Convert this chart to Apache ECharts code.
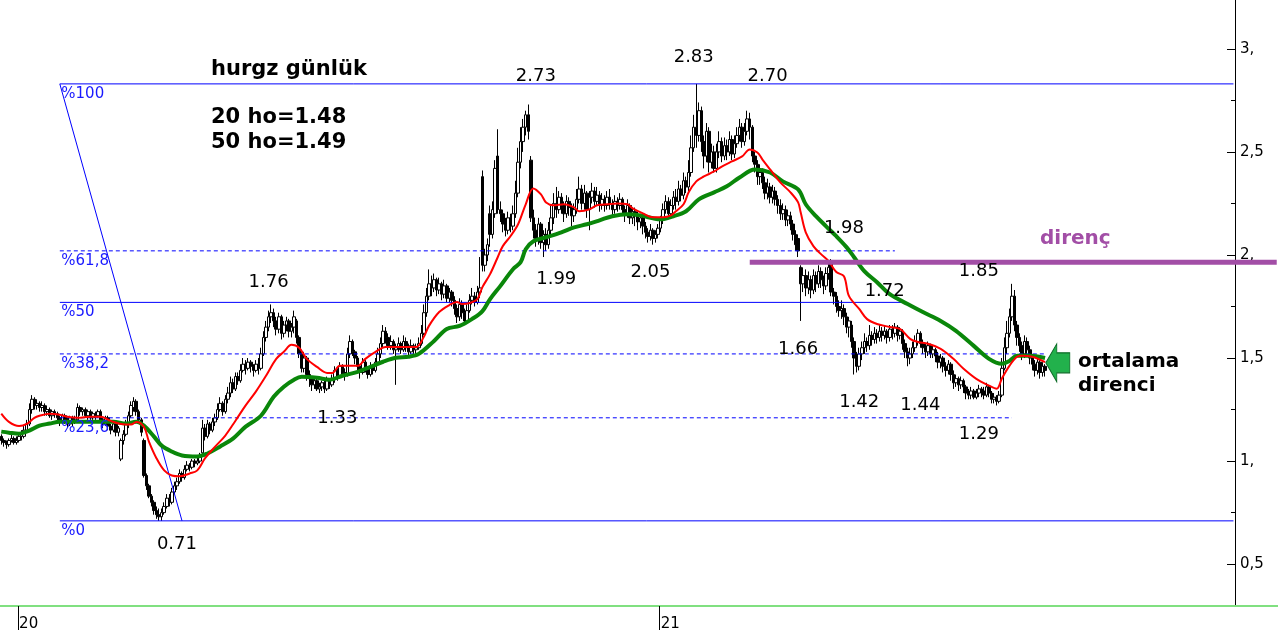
<!DOCTYPE html>
<html>
<head>
<meta charset="utf-8">
<script src="https://cdn.jsdelivr.net/npm/echarts@6/dist/echarts.min.js"></script>
<style>
html,body{margin:0;padding:0;background:#fff;}
#chart{width:1278px;height:632px;}
</style>
</head>
<body>
<div id="chart"></div>
<script>
// ---------- DATA ----------
const opens = [
1.12,1.10,1.09,1.08,1.10,1.11,1.09,1.10,1.12,1.12,
1.15,1.18,1.25,1.30,1.27,1.28,1.26,1.27,1.24,1.25,
1.22,1.24,1.23,1.21,1.19,1.22,1.20,1.18,1.21,1.19,
1.20,1.26,1.24,1.25,1.22,1.24,1.21,1.23,1.22,1.24,
1.20,1.18,1.21,1.17,1.15,1.18,1.14,1.01,1.10,1.13,
1.18,1.22,1.26,1.29,1.24,1.20,1.10,0.93,0.88,0.83,
0.80,0.76,0.74,0.73,0.75,0.78,0.82,0.80,0.85,0.88,
0.90,0.94,0.92,0.96,0.98,0.97,1.00,0.99,1.00,1.04,
1.16,1.12,1.18,1.15,1.19,1.21,1.25,1.28,1.24,1.30,
1.33,1.38,1.35,1.41,1.39,1.44,1.47,1.45,1.48,1.46,
1.44,1.47,1.45,1.52,1.60,1.65,1.70,1.72,1.68,1.64,
1.70,1.62,1.66,1.68,1.63,1.65,1.68,1.60,1.52,1.45,
1.50,1.42,1.40,1.37,1.39,1.35,1.36,1.38,1.35,1.39,
1.37,1.40,1.44,1.41,1.46,1.43,1.42,1.52,1.58,1.53,
1.50,1.46,1.43,1.48,1.45,1.42,1.46,1.44,1.48,1.52,
1.57,1.63,1.60,1.56,1.58,1.54,1.55,1.57,1.54,1.58,
1.55,1.53,1.56,1.54,1.55,1.57,1.62,1.72,1.80,1.86,
1.84,1.88,1.83,1.86,1.81,1.85,1.79,1.82,1.78,1.74,
1.70,1.76,1.72,1.68,1.73,1.78,1.80,1.77,1.82,2.38,
1.95,2.00,2.20,2.10,2.20,2.48,2.22,2.20,2.15,2.12,
2.18,2.14,2.20,2.30,2.45,2.55,2.62,2.68,2.46,2.18,
2.12,2.08,2.15,2.06,2.10,2.05,2.12,2.18,2.25,2.22,
2.28,2.24,2.20,2.26,2.23,2.19,2.22,2.27,2.32,2.25,
2.30,2.22,2.28,2.31,2.26,2.29,2.24,2.27,2.24,2.28,
2.25,2.22,2.26,2.24,2.27,2.22,2.20,2.24,2.18,2.21,
2.19,2.16,2.18,2.14,2.11,2.09,2.12,2.08,2.10,2.13,
2.17,2.22,2.26,2.20,2.24,2.28,2.26,2.32,2.29,2.36,
2.33,2.40,2.52,2.62,2.58,2.70,2.55,2.48,2.60,2.45,
2.50,2.42,2.50,2.55,2.48,2.53,2.50,2.56,2.49,2.54,
2.58,2.62,2.55,2.60,2.66,2.62,2.48,2.44,2.38,2.40,
2.35,2.30,2.33,2.28,2.31,2.27,2.24,2.20,2.22,2.17,
2.19,2.15,2.10,2.08,1.94,1.86,1.90,1.84,1.88,1.83,
1.90,1.86,1.92,1.88,1.85,1.91,1.96,1.82,1.80,1.75,
1.73,1.74,1.70,1.65,1.66,1.58,1.50,1.46,1.52,1.55,
1.58,1.56,1.61,1.59,1.62,1.60,1.63,1.61,1.63,1.60,
1.64,1.62,1.65,1.61,1.63,1.57,1.53,1.50,1.52,1.55,
1.58,1.62,1.57,1.55,1.53,1.56,1.52,1.54,1.51,1.48,
1.50,1.46,1.44,1.47,1.42,1.38,1.40,1.37,1.39,1.36,
1.33,1.32,1.34,1.31,1.33,1.35,1.34,1.32,1.36,1.33,
1.30,1.31,1.29,1.32,1.45,1.55,1.62,1.70,1.80,1.66,
1.60,1.56,1.52,1.58,1.54,1.50,1.47,1.44,1.48,1.43,
1.46];
const closes = [
1.10,1.09,1.08,1.10,1.11,1.09,1.10,1.12,1.13,1.15,
1.18,1.25,1.30,1.27,1.28,1.26,1.27,1.24,1.25,1.22,
1.24,1.23,1.21,1.19,1.22,1.20,1.18,1.21,1.19,1.20,
1.26,1.24,1.25,1.22,1.24,1.21,1.23,1.22,1.24,1.20,
1.18,1.21,1.17,1.15,1.18,1.14,1.16,1.10,1.13,1.18,
1.22,1.27,1.29,1.24,1.20,1.14,0.93,0.88,0.83,0.80,
0.76,0.74,0.73,0.75,0.78,0.82,0.80,0.85,0.88,0.90,
0.94,0.92,0.96,0.98,0.97,1.00,0.99,1.00,1.02,1.16,
1.12,1.18,1.15,1.19,1.21,1.25,1.28,1.24,1.30,1.33,
1.38,1.35,1.41,1.39,1.44,1.47,1.45,1.48,1.46,1.44,
1.47,1.45,1.52,1.60,1.65,1.70,1.72,1.68,1.64,1.70,
1.62,1.66,1.68,1.63,1.65,1.70,1.60,1.52,1.45,1.50,
1.42,1.40,1.37,1.39,1.35,1.36,1.38,1.35,1.39,1.37,
1.40,1.44,1.41,1.46,1.43,1.42,1.52,1.58,1.53,1.50,
1.46,1.43,1.48,1.45,1.42,1.46,1.44,1.48,1.52,1.57,
1.63,1.60,1.56,1.58,1.54,1.55,1.57,1.54,1.58,1.55,
1.53,1.56,1.54,1.55,1.57,1.62,1.72,1.80,1.86,1.84,
1.88,1.83,1.86,1.81,1.85,1.79,1.82,1.78,1.74,1.70,
1.76,1.72,1.68,1.73,1.78,1.80,1.77,1.82,1.84,1.95,
2.00,2.05,2.10,2.22,2.42,2.22,2.20,2.15,2.12,2.18,
2.14,2.20,2.30,2.45,2.55,2.62,2.68,2.60,2.18,2.12,
2.08,2.15,2.06,2.10,2.05,2.12,2.18,2.25,2.22,2.28,
2.24,2.20,2.26,2.23,2.19,2.22,2.27,2.32,2.25,2.30,
2.22,2.28,2.31,2.26,2.29,2.24,2.27,2.24,2.28,2.25,
2.22,2.26,2.24,2.27,2.22,2.20,2.24,2.18,2.21,2.19,
2.16,2.18,2.14,2.11,2.09,2.12,2.08,2.10,2.13,2.17,
2.22,2.26,2.20,2.24,2.28,2.26,2.32,2.29,2.36,2.33,
2.40,2.52,2.62,2.58,2.70,2.55,2.48,2.60,2.45,2.50,
2.42,2.50,2.55,2.48,2.53,2.50,2.56,2.49,2.54,2.58,
2.62,2.55,2.60,2.66,2.62,2.48,2.44,2.38,2.40,2.35,
2.30,2.33,2.28,2.31,2.27,2.24,2.20,2.22,2.17,2.19,
2.15,2.10,2.05,2.02,1.86,1.90,1.84,1.88,1.83,1.90,
1.86,1.92,1.88,1.85,1.91,1.94,1.82,1.80,1.75,1.73,
1.74,1.70,1.65,1.68,1.58,1.50,1.46,1.52,1.55,1.58,
1.56,1.61,1.59,1.62,1.60,1.63,1.61,1.63,1.60,1.64,
1.62,1.65,1.61,1.63,1.57,1.53,1.50,1.52,1.55,1.58,
1.62,1.57,1.55,1.53,1.56,1.52,1.54,1.51,1.48,1.50,
1.46,1.44,1.47,1.42,1.38,1.40,1.37,1.39,1.36,1.33,
1.32,1.34,1.31,1.33,1.35,1.34,1.32,1.36,1.33,1.30,
1.31,1.29,1.32,1.45,1.55,1.62,1.70,1.80,1.66,1.60,
1.56,1.52,1.58,1.54,1.50,1.47,1.44,1.48,1.43,1.46,
1.44];
const lows = [
1.08,1.07,1.06,1.07,1.09,1.08,1.08,1.09,1.10,1.11,
1.14,1.17,1.23,1.25,1.25,1.24,1.24,1.22,1.22,1.21,
1.20,1.21,1.19,1.17,1.18,1.18,1.16,1.17,1.17,1.18,
1.19,1.22,1.22,1.21,1.20,1.20,1.20,1.20,1.21,1.19,
1.16,1.17,1.15,1.13,1.14,1.12,1.12,1.00,1.08,1.12,
1.16,1.21,1.24,1.22,1.18,1.12,0.92,0.86,0.82,0.78,
0.74,0.72,0.71,0.71,0.74,0.77,0.78,0.79,0.84,0.86,
0.89,0.90,0.91,0.95,0.95,0.96,0.97,0.98,0.99,1.03,
1.10,1.11,1.13,1.14,1.17,1.20,1.24,1.22,1.23,1.28,
1.31,1.33,1.34,1.37,1.38,1.43,1.42,1.44,1.43,1.41,
1.43,1.42,1.44,1.51,1.58,1.63,1.67,1.65,1.61,1.62,
1.59,1.60,1.63,1.60,1.60,1.62,1.57,1.50,1.43,1.43,
1.39,1.36,1.34,1.35,1.34,1.33,1.34,1.33,1.34,1.35,
1.36,1.38,1.39,1.40,1.41,1.39,1.41,1.50,1.51,1.47,
1.44,1.40,1.42,1.43,1.40,1.41,1.42,1.43,1.47,1.50,
1.55,1.57,1.54,1.54,1.52,1.37,1.53,1.52,1.53,1.53,
1.51,1.52,1.52,1.52,1.54,1.56,1.61,1.70,1.78,1.80,
1.82,1.80,1.81,1.78,1.79,1.77,1.77,1.75,1.71,1.67,
1.68,1.69,1.66,1.67,1.72,1.76,1.75,1.76,1.79,1.92,
1.92,1.97,2.04,2.08,2.18,2.20,2.16,2.11,2.09,2.10,
2.11,2.12,2.18,2.28,2.42,2.50,2.58,2.56,2.16,2.08,
2.04,2.05,2.03,1.99,2.02,2.03,2.10,2.15,2.18,2.20,
2.20,2.16,2.18,2.19,2.14,2.16,2.20,2.25,2.22,2.22,
2.18,2.12,2.25,2.23,2.24,2.21,2.22,2.21,2.22,2.22,
2.19,2.20,2.21,2.22,2.19,2.16,2.18,2.15,2.15,2.14,
2.12,2.13,2.10,2.08,2.06,2.07,2.05,2.06,2.08,2.11,
2.15,2.20,2.18,2.18,2.22,2.22,2.24,2.26,2.27,2.30,
2.31,2.38,2.50,2.52,2.55,2.50,2.42,2.45,2.40,2.42,
2.40,2.40,2.47,2.45,2.46,2.46,2.48,2.46,2.47,2.52,
2.55,2.52,2.53,2.58,2.56,2.45,2.40,2.34,2.34,2.32,
2.27,2.27,2.25,2.25,2.24,2.20,2.17,2.17,2.14,2.14,
2.12,2.07,2.02,1.99,1.68,1.82,1.80,1.81,1.79,1.81,
1.82,1.84,1.84,1.81,1.83,1.88,1.80,1.76,1.72,1.70,
1.69,1.66,1.62,1.60,1.55,1.42,1.43,1.44,1.49,1.52,
1.53,1.54,1.56,1.57,1.57,1.58,1.58,1.59,1.57,1.58,
1.59,1.60,1.58,1.59,1.54,1.50,1.46,1.47,1.50,1.53,
1.56,1.55,1.52,1.50,1.51,1.50,1.50,1.48,1.45,1.45,
1.43,1.41,1.42,1.39,1.35,1.36,1.34,1.35,1.33,1.30,
1.30,1.30,1.30,1.30,1.31,1.31,1.30,1.31,1.31,1.28,
1.28,1.27,1.28,1.31,1.44,1.52,1.60,1.68,1.63,1.56,
1.53,1.49,1.50,1.51,1.47,1.44,1.41,1.42,1.40,1.41,
1.41];
const highs = [
1.13,1.11,1.10,1.11,1.13,1.12,1.12,1.13,1.15,1.17,
1.20,1.28,1.32,1.31,1.30,1.29,1.29,1.28,1.27,1.26,
1.25,1.25,1.24,1.22,1.23,1.23,1.21,1.22,1.22,1.22,
1.28,1.27,1.26,1.26,1.25,1.25,1.24,1.24,1.25,1.25,
1.21,1.22,1.22,1.18,1.19,1.19,1.17,1.11,1.15,1.20,
1.24,1.29,1.31,1.30,1.25,1.21,1.11,0.94,0.89,0.84,
0.81,0.78,0.77,0.77,0.80,0.84,0.84,0.87,0.90,0.92,
0.96,0.95,0.98,1.00,0.99,1.01,1.01,1.02,1.04,1.20,
1.18,1.20,1.19,1.21,1.23,1.28,1.31,1.29,1.32,1.36,
1.41,1.40,1.43,1.43,1.47,1.50,1.49,1.50,1.49,1.47,
1.49,1.50,1.55,1.63,1.68,1.73,1.76,1.74,1.70,1.72,
1.71,1.68,1.70,1.69,1.67,1.73,1.69,1.61,1.54,1.53,
1.51,1.44,1.41,1.41,1.40,1.38,1.39,1.39,1.41,1.40,
1.42,1.46,1.45,1.48,1.47,1.45,1.55,1.61,1.59,1.54,
1.51,1.47,1.50,1.49,1.46,1.48,1.47,1.50,1.55,1.60,
1.66,1.65,1.62,1.61,1.59,1.57,1.60,1.58,1.61,1.60,
1.57,1.59,1.57,1.57,1.60,1.66,1.76,1.84,1.93,1.90,
1.91,1.89,1.89,1.87,1.88,1.86,1.84,1.83,1.80,1.76,
1.79,1.78,1.74,1.76,1.81,1.84,1.82,1.85,1.99,2.41,
2.03,2.08,2.24,2.26,2.46,2.61,2.26,2.22,2.18,2.21,
2.20,2.24,2.36,2.52,2.62,2.66,2.70,2.73,2.48,2.22,
2.15,2.18,2.16,2.12,2.13,2.16,2.24,2.30,2.33,2.31,
2.30,2.26,2.29,2.28,2.25,2.25,2.32,2.38,2.34,2.34,
2.31,2.31,2.35,2.33,2.33,2.31,2.30,2.29,2.31,2.32,
2.27,2.29,2.28,2.30,2.28,2.24,2.27,2.25,2.23,2.23,
2.21,2.20,2.20,2.16,2.13,2.15,2.13,2.12,2.15,2.19,
2.25,2.29,2.28,2.27,2.31,2.32,2.36,2.34,2.40,2.38,
2.46,2.58,2.68,2.83,2.74,2.72,2.58,2.64,2.62,2.54,
2.53,2.54,2.60,2.57,2.57,2.56,2.60,2.58,2.58,2.62,
2.66,2.64,2.64,2.70,2.69,2.63,2.50,2.46,2.44,2.42,
2.38,2.37,2.35,2.34,2.33,2.29,2.27,2.25,2.24,2.22,
2.21,2.17,2.12,2.10,1.95,1.94,1.93,1.92,1.90,1.93,
1.92,1.95,1.94,1.90,1.94,1.97,1.98,1.84,1.82,1.78,
1.78,1.76,1.72,1.70,1.68,1.60,1.53,1.55,1.58,1.62,
1.60,1.66,1.63,1.65,1.64,1.66,1.65,1.66,1.64,1.66,
1.66,1.67,1.66,1.65,1.64,1.59,1.55,1.55,1.58,1.61,
1.64,1.63,1.59,1.57,1.58,1.57,1.56,1.55,1.53,1.52,
1.51,1.48,1.49,1.48,1.44,1.42,1.41,1.41,1.40,1.37,
1.35,1.36,1.35,1.35,1.37,1.36,1.36,1.38,1.37,1.34,
1.33,1.32,1.34,1.50,1.60,1.68,1.74,1.86,1.83,1.68,
1.62,1.58,1.61,1.60,1.56,1.52,1.49,1.50,1.49,1.48,
1.47];

// moving averages: [bar index, value]
const ma20 = [
[0,1.23],[3,1.19],[7,1.17],[10,1.18],[13,1.21],[15,1.22],[19,1.23],[23,1.225],[26,1.215],[30,1.21],
[35,1.215],[39,1.215],[43,1.195],[47,1.18],[51,1.177],[53,1.19],[56,1.167],[58,1.095],[61,1.013],[64,0.955],
[67,0.93],[70,0.926],[74,0.94],[77,0.955],[80,1.013],[84,1.07],[88,1.124],[92,1.196],[96,1.27],[100,1.337],
[104,1.414],[108,1.496],[111,1.53],[114,1.564],[117,1.55],[120,1.496],[124,1.457],[128,1.428],[130,1.428],[133,1.462],
[137,1.462],[140,1.462],[143,1.496],[147,1.53],[151,1.554],[155,1.554],[159,1.554],[163,1.554],[166,1.603],[168,1.656],
[172,1.723],[176,1.757],[179,1.772],[181,1.762],[184,1.767],[187,1.786],[189,1.844],[192,1.907],[195,1.989],[197,2.043],
[200,2.091],[203,2.149],[206,2.246],[209,2.323],[212,2.294],[214,2.255],[217,2.241],[221,2.246],[225,2.231],[227,2.212],
[231,2.221],[234,2.241],[238,2.246],[242,2.25],[246,2.246],[248,2.226],[252,2.202],[256,2.183],[260,2.183],[263,2.192],
[265,2.212],[268,2.246],[270,2.304],[273,2.357],[276,2.381],[280,2.405],[283,2.429],[287,2.454],[291,2.478],[294,2.512],
[297,2.497],[299,2.463],[302,2.415],[306,2.352],[310,2.304],[313,2.255],[314,2.207],[316,2.11],[319,2.043],[322,2.004],
[325,1.97],[328,1.917],[331,1.897],[333,1.80],[337,1.738],[340,1.69],[344,1.665],[349,1.651],[353,1.641],[357,1.593],
[360,1.578],[364,1.569],[369,1.544],[374,1.496],[378,1.448],[383,1.399],[388,1.366],[391,1.351],[393,1.40],[396,1.462],
[399,1.506],[401,1.511],[405,1.506],[410,1.48]];
const ma50 = [
[0,1.143],[3,1.138],[7,1.133],[11,1.148],[15,1.172],[19,1.182],[23,1.191],[31,1.191],[39,1.191],[44,1.191],
[49,1.182],[53,1.191],[56,1.172],[60,1.119],[63,1.075],[67,1.046],[71,1.027],[77,1.022],[81,1.037],[86,1.071],
[91,1.109],[96,1.167],[102,1.22],[107,1.312],[111,1.361],[115,1.395],[118,1.409],[124,1.404],[129,1.395],[134,1.414],
[140,1.433],[145,1.457],[150,1.482],[155,1.501],[160,1.506],[164,1.52],[170,1.583],[175,1.641],[180,1.656],[185,1.69],
[189,1.728],[192,1.786],[196,1.849],[201,1.931],[204,1.965],[206,2.028],[209,2.067],[214,2.086],[220,2.11],[225,2.134],
[230,2.149],[235,2.168],[240,2.188],[246,2.197],[251,2.192],[256,2.178],[259,2.173],[264,2.188],[269,2.212],[274,2.27],
[280,2.304],[285,2.333],[290,2.376],[296,2.415],[302,2.40],[307,2.357],[313,2.318],[316,2.246],[320,2.188],[324,2.139],
[328,2.091],[332,2.038],[335,1.989],[339,1.922],[344,1.868],[349,1.81],[356,1.762],[362,1.723],[369,1.68],[375,1.632],
[382,1.559],[388,1.496],[393,1.472],[396,1.486],[399,1.511],[404,1.511],[410,1.50]];

// Fibonacci retracement (0.71 -> 2.83)
const fibLabels = ['%100', '%61,8', '%50', '%38,2', '%23,6', '%0'];
const fibValues = [2.83, 2.02, 1.77, 1.52, 1.21, 0.71];
const fibStartIndex = 23;
const fibEndIndex = [484, 351, 354, 410, 397, 484];
const fibDashed = [false, true, false, true, true, false];
const fibDiagonal = [[23, 2.83], [71, 0.71]];

// price notes
const noteTexts = ['2.73', '2.83', '2.70', '1.76', '1.33', '0.71', '1.99', '2.05', '1.98', '1.72', '1.85', '1.66', '1.42', '1.44', '1.29'];
const noteIndex = [210, 272, 301, 105, 132, 69, 218, 255, 331, 347, 384, 313, 337, 361, 384];
const noteValues = [2.869, 2.961, 2.869, 1.868, 1.206, 0.597, 1.883, 1.917, 2.130, 1.825, 1.922, 1.544, 1.283, 1.269, 1.129];

// resistance line and arrow
const direncValue = 1.965;
const direncRange = [294, 501];
const arrowPoint = [415, 1.477];

// axes
const barSlots = 502;
const yearLabels = ['20', '21'];
const yearIndex = [7, 259];
const yTickValues = [0.5, 1, 1.5, 2, 2.5, 3];
const yMinorValues = [0.75, 1.25, 1.75, 2.25, 2.75];
const maTexts = ['20 ho=1.48', '50 ho=1.49'];

// ---------- CHART ----------
const FONT = '"DejaVu Sans", Verdana, sans-serif';
const dayIndex = Array.from({length: barSlots}, (_, i) => String(i));
const candleData = opens.map((o, i) => [o, closes[i], lows[i], highs[i]]);

const series = [];
series.push({
  type: 'candlestick', name: 'hurgz', data: candleData, barWidth: 3, z: 2,
  itemStyle: {color: '#ffffff', color0: '#000000', borderColor: '#000000', borderColor0: '#000000', borderWidth: 1}
});
fibValues.forEach((v, k) => {
  series.push({
    type: 'line', data: [[fibStartIndex, v], [fibEndIndex[k], v]], symbol: 'none', silent: true, z: 3,
    lineStyle: {color: '#0000ff', width: 1, type: fibDashed[k] ? [4, 3] : 'solid'}
  });
});
series.push({
  type: 'line', data: fibDiagonal, symbol: 'none', silent: true, z: 3,
  lineStyle: {color: '#0000ff', width: 1}
});
series.push({
  type: 'scatter', silent: true, z: 6, symbolSize: 1, itemStyle: {color: 'rgba(0,0,0,0)', opacity: 1},
  data: fibValues.map((v, k) => [fibStartIndex, v, fibLabels[k]]),
  label: {show: true, position: [2, 3], align: 'left', verticalAlign: 'top', formatter: p => p.data[2],
    color: '#1a1aff', opacity: 1, fontFamily: FONT, fontSize: 15, textBorderWidth: 0}
});
series.push({
  type: 'line', data: ma50, symbol: 'none', smooth: 0.35, silent: true, z: 4,
  lineStyle: {color: '#0a870a', width: 4}
});
series.push({
  type: 'line', data: ma20, symbol: 'none', smooth: 0.35, silent: true, z: 5,
  lineStyle: {color: '#ff0000', width: 2}
});
series.push({
  type: 'line', data: [[direncRange[0], direncValue], [direncRange[1], direncValue]], symbol: 'none', silent: true, z: 6,
  lineStyle: {color: '#a24ea6', width: 5}
});
series.push({
  type: 'scatter', silent: true, z: 7, symbolSize: 1, itemStyle: {color: 'rgba(0,0,0,0)', opacity: 1},
  data: noteTexts.map((t, k) => [noteIndex[k], noteValues[k], t]),
  label: {show: true, position: 'inside', formatter: p => p.data[2], color: '#000000', opacity: 1,
    textBorderWidth: 0, fontFamily: FONT, fontSize: 18}
});
series.push({
  type: 'scatter', silent: true, z: 7, data: [arrowPoint],
  symbol: 'path://M0,19L11,0L11,9L24,9L24,29L11,29L11,38Z', symbolSize: [24, 38], symbolKeepAspect: false,
  itemStyle: {color: '#22b14c', borderColor: '#0d6b27', borderWidth: 1, opacity: 1}
});

const yFmt = v => Number.isInteger(v) ? v + ',' : String(v).replace('.', ',');

const option = {
  animation: false,
  backgroundColor: '#ffffff',
  title: [
    {text: 'hurgz günlük', left: 211, top: 58, padding: 0,
     textStyle: {fontFamily: FONT, fontWeight: 'bold', fontSize: 21, color: '#000', lineHeight: 24}},
    {text: maTexts.join('\n'), left: 211, top: 105, padding: 0,
     textStyle: {fontFamily: FONT, fontWeight: 'bold', fontSize: 21, color: '#000', lineHeight: 25}}
  ],
  graphic: [
    {type: 'text', left: 1040, top: 229, z: 10,
     style: {text: 'direnç', fontFamily: FONT, fontWeight: 'bold', fontSize: 20, fill: '#a24ea6'}},
    {type: 'text', left: 1078, top: 350, z: 10,
     style: {text: 'ortalama\ndirenci', fontFamily: FONT, fontWeight: 'bold', fontSize: 20, lineHeight: 24, fill: '#000'}}
  ],
  grid: {left: 0, right: 0, top: 0, bottom: 24, containLabel: false},
  xAxis: {
    type: 'category', data: dayIndex, boundaryGap: true,
    axisLine: {show: true, lineStyle: {color: '#80e080', width: 2}},
    axisTick: {show: true, interval: (i) => yearIndex.includes(i), length: 24, lineStyle: {color: '#000', width: 1}},
    axisLabel: {show: true, interval: (i) => yearIndex.includes(i), formatter: (v, i) => {
        const k = yearIndex.indexOf(i); return k >= 0 ? yearLabels[k] : ''; },
      align: 'left', margin: 11, color: '#000', fontFamily: FONT, fontSize: 15},
    splitLine: {show: false}
  },
  yAxis: [
    {type: 'value', position: 'right', offset: -43, min: 0.297, max: 3.237, scale: true,
     axisLine: {show: true, lineStyle: {color: '#000', width: 1}},
     axisTick: {show: true, inside: true, length: 8, customValues: yTickValues, lineStyle: {color: '#000'}},
     axisLabel: {show: true, customValues: yTickValues, formatter: yFmt, margin: 5, color: '#000', fontFamily: FONT, fontSize: 15},
     splitLine: {show: false}},
    {type: 'value', position: 'right', offset: -43, min: 0.297, max: 3.237, scale: true,
     axisLine: {show: false},
     axisTick: {show: true, inside: true, length: 4, customValues: yMinorValues, lineStyle: {color: '#000'}},
     axisLabel: {show: false}, splitLine: {show: false}}
  ],
  series: series
};

const chart = echarts.init(document.getElementById('chart'), null, {renderer: 'canvas'});
chart.setOption(option);
</script>
</body>
</html>
